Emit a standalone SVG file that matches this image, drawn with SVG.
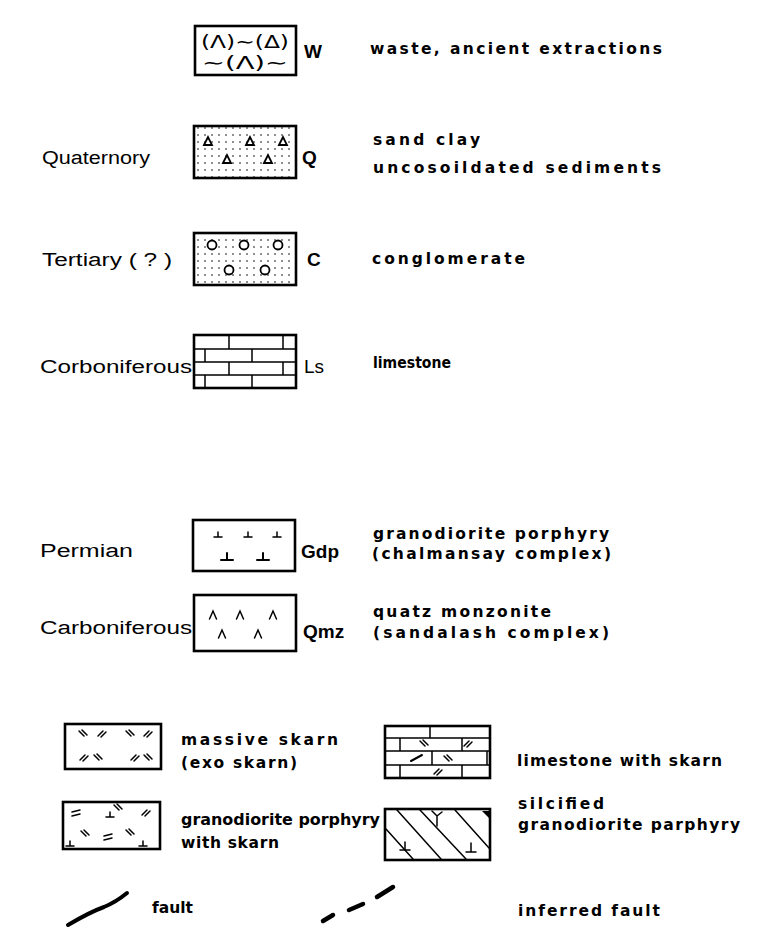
<svg xmlns="http://www.w3.org/2000/svg" width="758" height="934" viewBox="0 0 758 934">
<style>
.box{fill:none;stroke:#000;stroke-width:2.6}
.ln{fill:none;stroke:#000;stroke-width:1.5;stroke-linecap:round}
.th{fill:none;stroke:#000;stroke-width:2;stroke-linecap:round}
.age{font-family:"Liberation Sans",Arial,sans-serif;font-size:18px;fill:#000}
.code{font-family:"Liberation Sans",Arial,sans-serif;font-size:19px;font-weight:bold;fill:#000}
.desc{font-family:"DejaVu Sans","Liberation Sans",sans-serif;font-size:15.5px;font-weight:bold;fill:#000}
.sym{font-family:"DejaVu Sans",sans-serif;font-size:18px;fill:#000}
</style>
<defs>
<pattern id="dots" width="7" height="7" patternUnits="userSpaceOnUse">
<circle cx="2" cy="2" r="0.8" fill="#000"/>
</pattern>
<path id="tee" d="M-4,0 H4 M0,0 V-5" class="ln"/>
<path id="caret" d="M-3.5,4 L0,-4 L3.5,4" class="ln"/>
<path id="dsl" d="M-4,-3 L1,2 M-1,-4 L4,1" class="ln"/>
<path id="dsr" d="M-4,2 L1,-3 M-1,3 L4,-2" class="ln"/>
</defs>

<g id="node-w">
<rect class="box" x="195" y="26" width="101" height="49"/>
<text class="sym" x="245" y="48" text-anchor="middle" textLength="88" lengthAdjust="spacingAndGlyphs">(Λ)∼(Δ)</text>
<text class="sym" x="245" y="69" text-anchor="middle" textLength="86" lengthAdjust="spacingAndGlyphs">∼(Λ)∼</text>
<text class="code" x="304" y="58">W</text>
<text class="desc" x="370" y="54" textLength="292" lengthAdjust="spacing">waste, ancient extractions</text>
</g>

<g id="node-q">
<text class="age" x="42" y="164" textLength="108" lengthAdjust="spacingAndGlyphs">Quaternory</text>
<rect x="195" y="127" width="100" height="50" fill="url(#dots)"/>
<rect class="box" x="194" y="126" width="102" height="52"/>
<g fill="#fff" stroke="#000" stroke-width="1.8">
<path d="M204,145 L208,137 L212,145 Z"/>
<path d="M246,145 L250,137 L254,145 Z"/>
<path d="M279,145 L283,137 L287,145 Z"/>
<path d="M223,163 L227,155 L231,163 Z"/>
<path d="M264,163 L268,155 L272,163 Z"/>
</g>
<text class="code" x="302" y="164">Q</text>
<text class="desc" x="373" y="145" textLength="107" lengthAdjust="spacing">sand clay</text>
<text class="desc" x="373" y="173" textLength="288" lengthAdjust="spacing">uncosoildated sediments</text>
</g>

<g id="node-c">
<text class="age" x="42" y="266" textLength="130" lengthAdjust="spacingAndGlyphs">Tertiary ( ? )</text>
<rect x="195" y="234" width="100" height="50" fill="url(#dots)"/>
<rect class="box" x="194" y="233" width="102" height="52"/>
<g fill="#fff" stroke="#000" stroke-width="1.8">
<circle cx="212" cy="245" r="4.5"/>
<circle cx="244" cy="245" r="4.5"/>
<circle cx="278" cy="245" r="4.5"/>
<circle cx="229" cy="270" r="4.5"/>
<circle cx="265" cy="270" r="4.5"/>
</g>
<text class="code" x="307" y="266">C</text>
<text class="desc" x="372" y="264" textLength="153" lengthAdjust="spacing">conglomerate</text>
</g>

<g id="node-ls">
<text class="age" x="40" y="373" textLength="152" lengthAdjust="spacingAndGlyphs">Corboniferous</text>
<rect class="box" x="194" y="335" width="102" height="53"/>
<path class="ln" d="M195,349 H295 M195,362 H295 M195,375 H295 M229,336 V349 M283,336 V349 M205,349 V362 M252,349 V362 M229,362 V375 M283,362 V375 M205,375 V387 M252,375 V387"/>
<text class="code" x="304" y="373" style="font-weight:normal">Ls</text>
<text class="desc" x="373" y="368" textLength="78" lengthAdjust="spacingAndGlyphs">limestone</text>
</g>

<g id="node-gdp">
<text class="age" x="40" y="557" textLength="93" lengthAdjust="spacingAndGlyphs">Permian</text>
<rect class="box" x="193" y="520" width="102" height="51"/>
<use href="#tee" x="218" y="537"/>
<use href="#tee" x="248" y="537"/>
<use href="#tee" x="277" y="537"/>
<path class="th" d="M221,560 H233 M227,560 V553 M257,560 H269 M263,560 V553"/>
<text class="code" x="301" y="558">Gdp</text>
<text class="desc" x="373" y="539" textLength="236" lengthAdjust="spacing">granodiorite porphyry</text>
<text class="desc" x="372" y="559" textLength="239" lengthAdjust="spacing">(chalmansay complex)</text>
</g>

<g id="node-qmz">
<text class="age" x="40" y="634" textLength="152" lengthAdjust="spacingAndGlyphs">Carboniferous</text>
<rect class="box" x="194" y="595" width="102" height="56"/>
<use href="#caret" x="213" y="615"/>
<use href="#caret" x="240" y="615"/>
<use href="#caret" x="273" y="615"/>
<use href="#caret" x="222" y="634"/>
<use href="#caret" x="258" y="634"/>
<text class="code" x="303" y="638">Qmz</text>
<text class="desc" x="373" y="617" textLength="178" lengthAdjust="spacing">quatz monzonite</text>
<text class="desc" x="373" y="638" textLength="236" lengthAdjust="spacing">(sandalash complex)</text>
</g>

<g id="node-massive-skarn">
<rect class="box" x="65" y="724" width="96" height="45"/>
<use href="#dsl" x="83" y="734"/>
<use href="#dsr" x="102" y="734"/>
<use href="#dsl" x="130" y="734"/>
<use href="#dsr" x="148" y="734"/>
<use href="#dsr" x="84" y="758"/>
<use href="#dsl" x="98" y="758"/>
<use href="#dsr" x="135" y="758"/>
<use href="#dsl" x="148" y="758"/>
<text class="desc" x="181" y="745" textLength="157" lengthAdjust="spacing">massive skarn</text>
<text class="desc" x="181" y="768" textLength="116" lengthAdjust="spacing">(exo skarn)</text>
</g>

<g id="node-limestone-skarn">
<rect class="box" x="385" y="726" width="105" height="52"/>
<path class="ln" d="M386,738 H489 M386,751 H489 M386,765 H489 M400,738 V751 M462,738 V751 M432,751 V765 M487,751 V765 M400,765 V777 M462,765 V777 M430,726 V738"/>
<use href="#dsl" x="424" y="744"/>
<use href="#dsr" x="468" y="744"/>
<path class="th" d="M411,761 L422,755"/>
<use href="#dsl" x="448" y="759"/>
<use href="#dsr" x="438" y="772"/>
<text class="desc" x="517" y="766" textLength="205" lengthAdjust="spacing">limestone with skarn</text>
</g>

<g id="node-gdp-skarn">
<rect class="box" x="63" y="802" width="97" height="47"/>
<path class="ln" d="M72,812 L80,810 M72,816 L80,814"/>
<use href="#tee" x="110" y="817"/>
<use href="#dsl" x="118" y="808"/>
<use href="#dsr" x="146" y="813"/>
<use href="#dsl" x="85" y="834"/>
<path class="ln" d="M104,836 L112,834 M104,840 L112,838"/>
<use href="#dsl" x="130" y="833"/>
<use href="#tee" x="70" y="846"/>
<use href="#tee" x="143" y="846"/>
<text class="desc" x="181" y="825" textLength="199" lengthAdjust="spacingAndGlyphs">granodiorite porphyry</text>
<text class="desc" x="181" y="848" textLength="98" lengthAdjust="spacing">with skarn</text>
</g>

<g id="node-silicified">
<rect class="box" x="385" y="809" width="105" height="51"/>
<path class="ln" d="M397,810 L441,859 M420,810 L466,859 M455,810 L489,848 M386,829 L413,859"/>
<path class="ln" d="M437,826 V816 M437,816 L432,811 M437,816 L442,812 M400,850 H410 M405,850 V842 M466,852 H476 M471,852 V843"/>
<path d="M482,811 L489,811 L489,818 Z" fill="#000"/>
<text class="desc" x="518" y="809" textLength="86" lengthAdjust="spacing">silcified</text>
<text class="desc" x="518" y="830" textLength="222" lengthAdjust="spacing">granodiorite parphyry</text>
</g>

<g id="connectors">
<path d="M68,925 Q90,912 104,907 Q116,902 127,893" fill="none" stroke="#000" stroke-width="4" stroke-linecap="round"/>
<path d="M323,921 L333,915 M349,910 L363,904 M377,897 L393,887" fill="none" stroke="#000" stroke-width="4.5" stroke-linecap="round"/>
</g>
<text class="desc" x="152" y="913" textLength="41" lengthAdjust="spacing">fault</text>
<text class="desc" x="518" y="916" textLength="142" lengthAdjust="spacing">inferred fault</text>
</svg>
